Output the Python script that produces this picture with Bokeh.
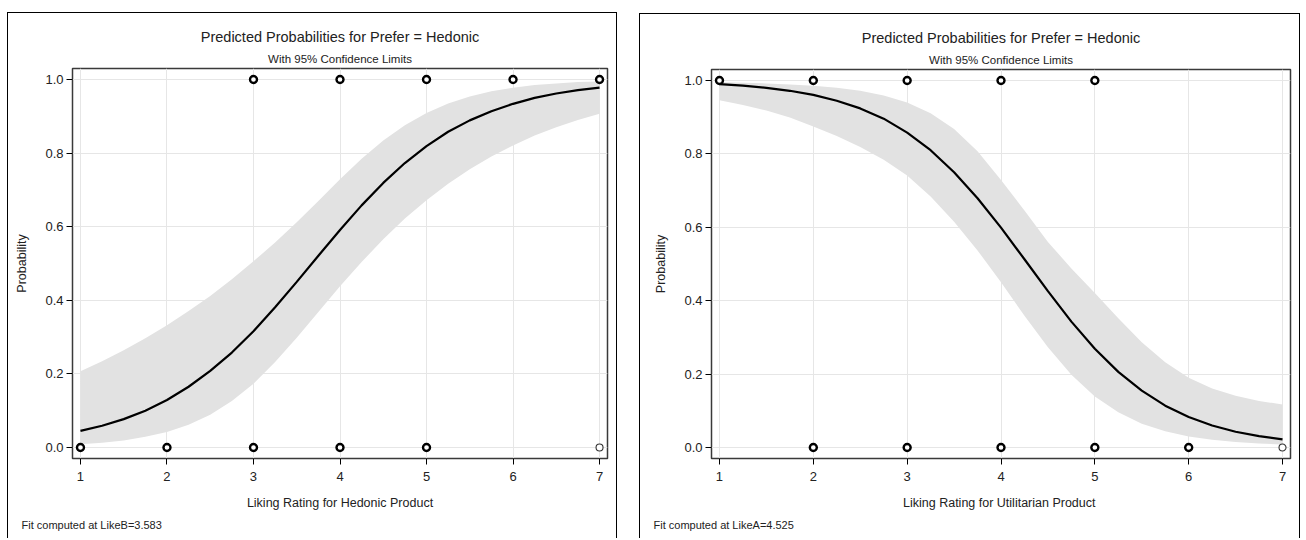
from bokeh.plotting import figure
from bokeh.layouts import row
from bokeh.models import Title, FixedTicker, NumeralTickFormatter
from bokeh.embed import file_html
from bokeh.resources import INLINE

FONT = "'Liberation Sans Narrow', 'Arial Narrow', 'Liberation Sans', Arial, sans-serif"

# ---------------- data ----------------
rating_grid = [1.0, 1.25, 1.5, 1.75, 2.0, 2.25, 2.5, 2.75, 3.0, 3.25, 3.5, 3.75, 4.0,
               4.25, 4.5, 4.75, 5.0, 5.25, 5.5, 5.75, 6.0, 6.25, 6.5, 6.75, 7.0]

# Left panel: Liking Rating for Hedonic Product (fit at LikeB=3.583)
hed_pred = [0.045, 0.059, 0.077, 0.100, 0.129, 0.165, 0.208, 0.258, 0.316, 0.381, 0.450,
            0.521, 0.591, 0.658, 0.719, 0.773, 0.819, 0.858, 0.889, 0.914, 0.934, 0.950,
            0.962, 0.971, 0.978]
hed_lower = [0.009, 0.013, 0.019, 0.029, 0.042, 0.062, 0.089, 0.126, 0.173, 0.232, 0.298,
             0.368, 0.438, 0.504, 0.566, 0.622, 0.672, 0.717, 0.756, 0.791, 0.821, 0.848,
             0.870, 0.890, 0.907]
hed_upper = [0.207, 0.234, 0.264, 0.297, 0.332, 0.371, 0.412, 0.457, 0.506, 0.557, 0.612,
             0.670, 0.729, 0.785, 0.834, 0.876, 0.909, 0.935, 0.954, 0.968, 0.978, 0.985,
             0.989, 0.993, 0.995]
hed_obs_x = [1, 2, 3, 4, 5, 3, 4, 5, 6, 7]
hed_obs_y = [0, 0, 0, 0, 0, 1, 1, 1, 1, 1]
hed_single_x = [7]
hed_single_y = [0]

# Right panel: Liking Rating for Utilitarian Product (fit at LikeA=4.525)
util_pred = [0.990, 0.986, 0.980, 0.972, 0.961, 0.945, 0.924, 0.896, 0.858, 0.810, 0.750,
             0.679, 0.599, 0.513, 0.426, 0.343, 0.269, 0.206, 0.155, 0.114, 0.083, 0.060,
             0.043, 0.031, 0.022]
util_lower = [0.946, 0.933, 0.918, 0.899, 0.875, 0.849, 0.819, 0.784, 0.741, 0.684, 0.615,
              0.537, 0.450, 0.359, 0.273, 0.198, 0.139, 0.096, 0.065, 0.044, 0.030, 0.021,
              0.015, 0.011, 0.008]
util_upper = [0.995, 0.994, 0.992, 0.989, 0.986, 0.980, 0.972, 0.959, 0.940, 0.911, 0.868,
              0.807, 0.729, 0.646, 0.560, 0.488, 0.421, 0.352, 0.287, 0.232, 0.190, 0.161,
              0.141, 0.127, 0.117]
util_obs_x = [1, 2, 3, 4, 5, 2, 3, 4, 5, 6]
util_obs_y = [1, 1, 1, 1, 1, 0, 0, 0, 0, 0]
util_single_x = [7]
util_single_y = [0]

x_ticks = [1, 2, 3, 4, 5, 6, 7]
y_ticks = [0.0, 0.2, 0.4, 0.6, 0.8, 1.0]

title_text = "Predicted Probabilities for Prefer = Hedonic"
subtitle_text = "With 95% Confidence Limits"


def make_panel(pred, lower, upper, ox, oy, sx, sy, xlabel, footnote,
               width, height, mb, margin, xr):
    p = figure(width=width, height=height, output_backend="svg", toolbar_location=None,
               x_range=xr, y_range=(-0.030, 1.030),
               min_border_left=mb[0], min_border_right=mb[1],
               min_border_top=mb[2], min_border_bottom=mb[3],
               margin=margin,
               styles={"border-top": "1.5px solid black", "border-left": "1.5px solid black",
                       "border-right": "1.5px solid black"})
    p.title.visible = False
    p.add_layout(Title(text=subtitle_text, align="center", text_font=FONT,
                       text_font_size="11.5px", text_font_style="normal",
                       text_color="#222222", standoff=8), "above")
    p.add_layout(Title(text=title_text, align="center", text_font=FONT,
                       text_font_size="14.5px", text_font_style="normal",
                       text_color="#222222", standoff=3), "above")
    p.add_layout(Title(text=footnote, align="left", text_font=FONT,
                       text_font_size="11px", text_font_style="normal",
                       text_color="#222222", offset=-(mb[0] - 13), standoff=8), "below")

    p.varea(x=rating_grid, y1=lower, y2=upper, fill_color="#e2e2e2", fill_alpha=1.0)
    p.line(x=rating_grid, y=pred, line_color="black", line_width=2.2)
    p.scatter(x=ox, y=oy, marker="circle", size=7, fill_color="white",
              line_color="black", line_width=2.4)
    p.scatter(x=sx, y=sy, marker="circle", size=7, fill_color="white",
              line_color="#333333", line_width=1.1)

    p.xaxis.ticker = FixedTicker(ticks=x_ticks)
    p.yaxis.ticker = FixedTicker(ticks=y_ticks)
    p.yaxis.formatter = NumeralTickFormatter(format="0.0")
    p.xaxis.axis_label = xlabel
    p.yaxis.axis_label = "Probability"
    for ax in (p.xaxis[0], p.yaxis[0]):
        ax.axis_line_color = None
        ax.major_tick_line_color = "black"
        ax.major_tick_out = 6
        ax.major_tick_in = 0
        ax.minor_tick_line_color = None
        ax.major_label_text_font = FONT
        ax.major_label_text_font_size = "13px"
        ax.major_label_text_color = "#222222"
        ax.axis_label_text_font = FONT
        ax.axis_label_text_font_size = "12.5px"
        ax.axis_label_text_font_style = "normal"
        ax.axis_label_text_color = "#222222"
    p.xaxis.major_label_standoff = 7
    p.yaxis.major_label_standoff = 3
    p.xaxis.axis_label_standoff = 12
    p.yaxis.axis_label_standoff = 13

    p.xgrid.grid_line_color = "#e6e6e6"
    p.ygrid.grid_line_color = "#e6e6e6"
    p.outline_line_color = "#3a3a3a"
    p.outline_line_width = 1.5
    p.background_fill_color = "white"
    p.border_fill_color = "white"
    return p


left = make_panel(hed_pred, hed_lower, hed_upper, hed_obs_x, hed_obs_y,
                  hed_single_x, hed_single_y,
                  "Liking Rating for Hedonic Product", "Fit computed at LikeB=3.583",
                  610, 526, (64, 11, 55, 81), (12, 0, 0, 7), (0.908, 7.092))
right = make_panel(util_pred, util_lower, util_upper, util_obs_x, util_obs_y,
                   util_single_x, util_single_y,
                   "Liking Rating for  Utilitarian Product", "Fit computed at LikeA=4.525",
                   661, 525, (71, 11, 55, 79), (13, 0, 0, 22), (0.915, 7.085))

layout = row(left, right)
open("out.html", "w").write(file_html(layout, INLINE))
